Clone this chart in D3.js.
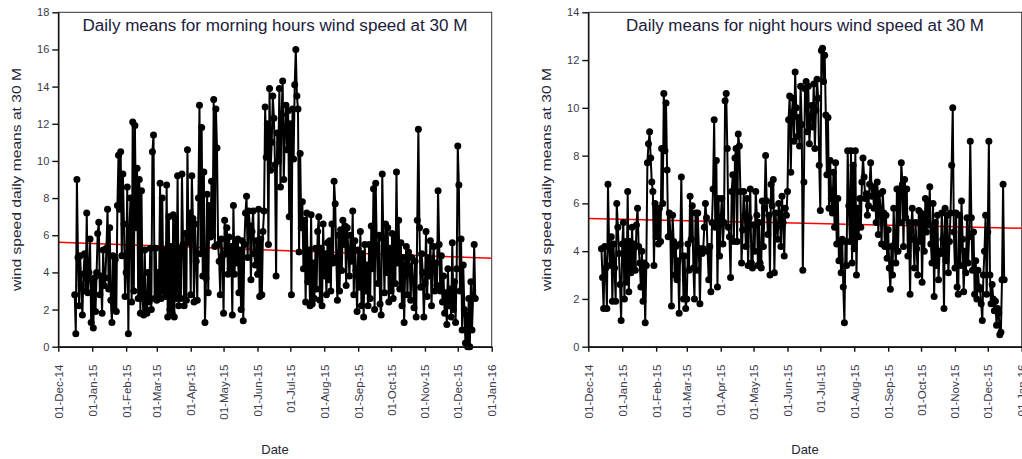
<!DOCTYPE html>
<html lang="en">
<head>
<meta charset="UTF-8">
<title>Daily means wind speed at 30 M</title>
<script src="https://cdn.jsdelivr.net/npm/d3@7"></script>
<style>
  body { margin: 0; background: #fff; }
  text { font-family: Arial, "Liberation Sans", sans-serif; fill: #262636; }
  .frame { fill: none; stroke: #333; stroke-width: 1; }
  .axis path, .axis line { stroke: #111; stroke-width: 1.4; }
  .axis text { font-size: 11px; fill: #3a3a4c; }
  .series { fill: none; stroke: #000; stroke-width: 2; }
  .trend { stroke: #f00; stroke-width: 1.5; fill: none; }
</style>
</head>
<body>
<svg id="chart" width="1022" height="459"></svg>
<script>
// daily means, morning hours (first value = 16-Dec-14)
const morningStart = "2014-12-16";
const morning = [
  2.8, 0.7, 9.0, 4.8, 2.2, 4.9, 3.3, 1.7, 3.9, 5.0,
  3.0, 7.2, 2.9, 4.0, 5.8, 1.3, 3.6, 1.0, 3.7, 1.9,
  4.0, 6.1, 6.7, 2.8, 3.8, 1.8, 5.2, 3.3, 3.7, 5.3,
  7.4, 3.1, 6.4, 2.5, 1.3, 4.9, 2.0, 4.7, 1.9, 7.6,
  10.3, 7.4, 10.5, 4.9, 9.3, 6.6, 2.7, 4.0, 8.6, 0.7,
  6.4, 8.0, 2.4, 12.1, 3.0, 11.9, 6.4, 9.6, 2.6, 9.0,
  1.8, 8.4, 2.6, 1.7, 5.2, 2.0, 1.8, 4.0, 2.4, 5.3,
  2.0, 10.5, 11.4, 2.6, 5.3, 2.5, 4.0, 2.7, 8.8, 2.6,
  8.0, 3.0, 5.2, 2.7, 8.7, 1.6, 7.0, 2.0, 5.4, 1.8,
  7.1, 1.6, 6.9, 2.6, 9.2, 2.2, 5.3, 2.6, 9.3, 5.5,
  2.2, 6.1, 2.5, 10.6, 5.6, 7.2, 2.8, 9.2, 6.9, 2.4,
  6.6, 4.6, 2.5, 8.0, 13.0, 5.0, 11.8, 3.8, 9.4, 1.3,
  3.7, 8.2, 2.9, 7.6, 5.9, 8.9, 6.0, 13.3, 5.4, 12.8,
  10.7, 5.5, 4.6, 2.8, 5.8, 4.9, 1.8, 6.8, 5.0, 6.4,
  3.9, 5.9, 4.2, 5.4, 1.7, 7.6, 3.9, 5.6, 4.5, 5.8,
  2.9, 5.2, 2.0, 5.7, 1.4, 5.5, 7.2, 8.1, 4.8, 7.3,
  6.5, 3.6, 6.2, 7.3, 5.0, 4.4, 5.7, 3.9, 7.4, 2.7,
  5.8, 2.8, 6.2, 7.3, 12.9, 10.2, 12.0, 5.5, 13.9, 9.5,
  11.0, 13.5, 12.3, 9.8, 3.8, 11.5, 10.0, 13.9, 8.6, 12.5,
  14.3, 9.0, 11.5, 13.0, 10.6, 12.7, 7.0, 12.0, 2.8, 12.8,
  10.1, 14.1, 16.0, 13.5, 12.8, 5.1, 10.4, 6.4, 7.8, 4.2,
  6.8, 2.4, 7.2, 3.5, 5.2, 2.2, 7.1, 2.3, 4.5, 2.6,
  5.3, 3.1, 6.2, 7.0, 2.5, 5.3, 2.2, 6.6, 3.8, 5.0,
  2.8, 5.6, 3.6, 5.7, 3.0, 6.6, 4.5, 8.9, 7.7, 4.8,
  2.5, 6.0, 3.0, 6.3, 4.1, 6.8, 5.5, 6.5, 3.3, 6.4,
  5.2, 3.8, 6.0, 4.6, 7.3, 2.8, 5.7, 4.1, 1.9, 5.2,
  3.2, 6.2, 2.2, 5.0, 1.6, 5.5, 3.0, 4.4, 2.2, 5.5,
  2.6, 6.5, 4.2, 8.5, 2.0, 8.8, 5.4, 3.4, 6.0, 2.3,
  1.7, 9.3, 5.8, 2.9, 6.6, 4.0, 6.4, 2.4, 5.3, 3.0,
  6.1, 2.6, 5.8, 3.4, 9.4, 4.5, 6.8, 3.1, 5.6, 2.2,
  4.8, 1.3, 4.4, 5.4, 2.8, 5.1, 4.3, 2.5, 4.8, 3.6,
  2.1, 4.6, 1.6, 6.8, 11.7, 6.4, 3.2, 5.0, 4.0, 1.6,
  3.4, 6.2, 2.7, 4.8, 3.8, 5.7, 2.2, 4.5, 5.4, 3.0,
  4.5, 3.3, 8.4, 5.5, 3.0, 4.9, 2.4, 3.8, 1.8, 2.9,
  1.2, 4.2, 2.2, 3.1, 1.6, 5.6, 2.0, 3.5, 1.3, 4.2,
  10.8, 8.7, 3.0, 5.8, 0.9, 4.4, 2.0, 0.2, 1.7, 0.0,
  2.6, 0.0, 3.5, 0.9, 2.7, 5.5, 2.6
];

// daily means, night hours (first value = 13-Dec-14)
const nightStart = "2014-12-13";
const night = [
  4.1, 2.9, 1.6, 4.2, 3.3, 1.6, 6.8, 4.2, 3.4, 4.6,
  1.9, 4.3, 3.3, 1.9, 6.0, 5.0, 3.9, 2.6, 1.1, 4.3,
  5.2, 2.0, 4.4, 2.7, 6.5, 2.3, 4.4, 3.1, 5.0, 3.4,
  4.3, 3.2, 5.1, 5.8, 4.2, 3.5, 2.5, 4.0, 1.9, 3.5,
  1.0, 3.4, 7.7, 8.5, 9.0, 7.9, 6.9, 6.5, 3.4, 6.0,
  4.6, 5.6, 4.3, 5.8, 4.4, 8.3, 6.0, 10.6, 8.2, 10.2,
  7.4, 4.6, 5.6, 4.7, 1.7, 5.5, 4.4, 3.0, 4.2, 2.8,
  3.6, 1.4, 4.3, 7.1, 3.8, 2.0, 3.8, 1.6, 2.0, 4.3,
  3.2, 6.3, 4.5, 5.9, 3.3, 2.0, 5.6, 3.2, 5.6, 4.1,
  1.8, 4.1, 3.9, 4.1, 5.0, 6.0, 5.4, 4.0, 2.8, 4.2,
  2.3, 5.2, 6.6, 9.5, 5.0, 7.8, 2.5, 6.2, 3.8, 5.4,
  6.2, 4.3, 5.2, 10.3, 10.6, 8.3, 5.0, 4.6, 2.9, 6.5,
  7.2, 4.4, 7.9, 8.3, 4.4, 8.9, 8.4, 6.5, 3.5, 4.9,
  6.5, 5.5, 4.2, 6.2, 3.4, 5.4, 6.6, 3.5, 3.3, 5.1,
  4.0, 6.5, 5.5, 3.4, 5.2, 3.5, 3.3, 6.1, 4.2, 5.8,
  8.0, 6.1, 4.7, 5.5, 3.0, 6.8, 5.9, 7.0, 3.1, 5.6,
  5.0, 4.5, 6.0, 5.6, 4.2, 6.3, 5.2, 3.8, 5.8, 5.5,
  6.5, 9.5, 10.5, 7.3, 9.8, 10.4, 8.6, 11.5, 10.0, 8.8,
  9.6, 8.4, 10.9, 9.3, 3.2, 6.9, 10.8, 11.1, 9.0, 10.9,
  8.5, 9.6, 10.1, 9.2, 11.0, 8.3, 9.9, 11.2, 10.4, 7.6,
  5.7, 12.4, 12.5, 11.1, 12.2, 9.7, 7.2, 9.6, 5.8, 7.8,
  6.2, 5.6, 7.3, 5.0, 7.7, 4.3, 6.2, 3.6, 4.3, 3.1,
  4.5, 2.5, 1.0, 4.4, 3.4, 8.2, 5.9, 4.4, 8.2, 3.5,
  7.6, 4.1, 8.2, 3.0, 5.8, 4.6, 6.2, 5.0, 6.9, 7.9,
  7.1, 6.2, 6.4, 5.5, 5.9, 6.8, 7.7, 6.3, 6.7, 5.8,
  6.6, 5.2, 6.9, 4.7, 6.4, 5.8, 4.3, 6.5, 5.6, 4.2,
  5.5, 3.7, 4.9, 3.3, 2.4, 4.2, 3.0, 5.8, 4.3, 3.5,
  6.6, 4.0, 6.6, 5.2, 7.7, 6.8, 4.2, 7.0, 5.4, 6.6,
  3.8, 5.2, 2.2, 4.9, 5.8, 4.5, 3.3, 5.2, 4.1, 3.0,
  5.7, 4.4, 5.6, 2.7, 5.5, 4.0, 6.2, 4.8, 6.1, 5.1,
  6.7, 4.3, 3.5, 6.0, 2.1, 5.2, 3.4, 5.5, 2.8, 4.0,
  3.9, 5.6, 4.5, 1.6, 5.8, 3.6, 5.5, 3.1, 4.4, 5.6,
  7.6, 10.0, 4.8, 3.3, 5.6, 2.5, 2.2, 5.5, 3.4, 6.1,
  4.5, 2.3, 4.0, 3.1, 5.4, 3.5, 4.6, 8.6, 5.4, 3.2,
  4.8, 2.2, 3.6, 2.0, 3.2, 2.5, 2.4, 1.8, 1.1, 3.0,
  4.0, 5.5, 2.2, 4.8, 8.6, 3.0, 1.8, 2.6, 2.0, 1.5,
  1.9, 0.9, 1.6, 1.4, 0.5, 0.6, 2.8, 6.8, 2.8
];

// red trend line, value at 01-Dec-14 and at 01-Jan-16
const morningTrend = [5.62, 4.76];
const nightTrend = [5.37, 4.96];

const monthTicks = ["01-Dec-14", "01-Jan-15", "01-Feb-15", "01-Mar-15", "01-Apr-15",
  "01-May-15", "01-Jun-15", "01-Jul-15", "01-Aug-15", "01-Sep-15", "01-Oct-15",
  "01-Nov-15", "01-Dec-15", "01-Jan-16"];
const morningYTicks = [0, 2, 4, 6, 8, 10, 12, 14, 16, 18];
const nightYTicks = [0, 2, 4, 6, 8, 10, 12, 14];

const parseTick = d3.utcParse("%d-%b-%y");
const fmtTick = d3.utcFormat("%d-%b-%y");
const parseDay = d3.utcParse("%Y-%m-%d");
const tickDates = monthTicks.map(parseTick);

const svg = d3.select("#chart");

function drawPanel(opt) {
  const left = opt.left, top = 12.3, w = 433.4, h = 334.4;
  const g = svg.append("g").attr("transform", `translate(${left},${top})`);

  const x = d3.scaleUtc()
    .domain([tickDates[0], tickDates[tickDates.length - 1]])
    .range([0, w]);
  const y = d3.scaleLinear()
    .domain([0, opt.yTicks[opt.yTicks.length - 1]])
    .range([h, 0]);

  const start = parseDay(opt.start);
  const pts = opt.values.map((v, i) => ({ date: d3.utcDay.offset(start, i), v: v }));

  // box
  g.append("rect").attr("class", "frame")
    .attr("x", 0).attr("y", 0).attr("width", w).attr("height", h);

  const line = d3.line().x(d => x(d.date)).y(d => y(d.v));

  // regression line
  const trend = [
    { date: x.domain()[0], v: opt.trend[0] },
    { date: x.domain()[1], v: opt.trend[1] }
  ];
  g.append("path").attr("class", "trend").attr("d", line(trend));

  // daily series
  g.append("path").attr("class", "series").attr("d", line(pts));
  g.append("g").selectAll("circle")
    .data(pts)
    .join("circle")
    .attr("cx", d => x(d.date))
    .attr("cy", d => y(d.v))
    .attr("r", 3.5)
    .attr("fill", "#000");

  // axes
  g.append("g").attr("class", "axis")
    .call(d3.axisLeft(y).tickValues(opt.yTicks).tickSize(6).tickSizeOuter(0).tickPadding(3));

  const xa = g.append("g").attr("class", "axis")
    .attr("transform", `translate(0,${h})`)
    .call(d3.axisBottom(x).tickValues(tickDates).tickFormat(fmtTick).tickSize(5).tickSizeOuter(0));
  xa.selectAll("text")
    .attr("transform", "rotate(-90)")
    .attr("text-anchor", "end")
    .attr("x", -18)
    .attr("y", 0)
    .attr("dy", "0.35em")
    .style("font-size", "11.5px");

  // title
  g.append("text")
    .attr("x", w / 2)
    .attr("y", 19)
    .attr("text-anchor", "middle")
    .attr("textLength", opt.titleWidth)
    .attr("lengthAdjust", "spacingAndGlyphs")
    .style("font-size", "16px")
    .style("fill", "#20203a")
    .text(opt.title);

  // y label
  g.append("text")
    .attr("transform", `translate(${opt.yLabelX - left},${h / 2}) rotate(-90)`)
    .attr("text-anchor", "middle")
    .attr("dy", "0.35em")
    .attr("textLength", 223)
    .attr("lengthAdjust", "spacingAndGlyphs")
    .style("font-size", "13px")
    .text("wind speed daily means at 30 M");

  // x label
  g.append("text")
    .attr("x", w / 2)
    .attr("y", 454 - top)
    .attr("text-anchor", "middle")
    .style("font-size", "13px")
    .text("Date");
}

drawPanel({
  left: 58.3, start: morningStart, values: morning, trend: morningTrend,
  yTicks: morningYTicks, yLabelX: 16,
  title: "Daily means for morning hours wind speed at 30 M", titleWidth: 385
});
drawPanel({
  left: 588.3, start: nightStart, values: night, trend: nightTrend,
  yTicks: nightYTicks, yLabelX: 546,
  title: "Daily means for night hours wind speed at 30 M", titleWidth: 358
});
</script>
</body>
</html>
